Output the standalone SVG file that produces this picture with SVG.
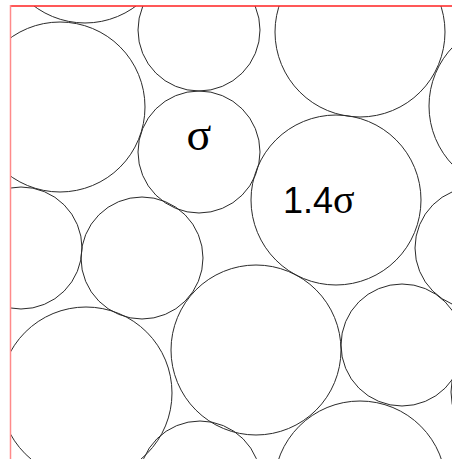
<svg xmlns="http://www.w3.org/2000/svg" width="452" height="459" viewBox="0 0 452 459">
<defs>
<style>
.c{fill:none;stroke:#2a2a2a;stroke-width:1}
.t{font-family:"Liberation Serif","DejaVu Serif",serif;fill:#000}
.s{font-family:"Liberation Sans",Arial,sans-serif;fill:#000}
</style>
<clipPath id="box"><rect x="10" y="6" width="442" height="453"/></clipPath>
</defs>
<rect width="452" height="459" fill="#fff"/>
<g clip-path="url(#box)">
<g id="cA"><circle class="c" cx="85" cy="-62" r="85"/></g>
<g id="cB"><circle class="c" cx="199" cy="30" r="61"/></g>
<g id="cC"><circle class="c" cx="360" cy="32" r="85"/></g>
<g id="cD"><circle class="c" cx="514" cy="106" r="85"/></g>
<g id="cE"><circle class="c" cx="60" cy="107" r="85"/></g>
<g id="cF"><circle class="c" cx="199" cy="152" r="61"/><text class="t" x="199" y="150" font-size="46" text-anchor="middle">σ</text></g>
<g id="cG"><circle class="c" cx="336" cy="200" r="85"/><text x="283" y="213"><tspan class="s" font-size="36">1.4</tspan><tspan class="t" font-size="40">σ</tspan></text></g>
<g id="cH"><circle class="c" cx="21" cy="248" r="61"/></g>
<g id="cI"><circle class="c" cx="142" cy="258" r="61"/></g>
<g id="cM"><circle class="c" cx="476" cy="248" r="61"/></g>
<g id="cJ"><circle class="c" cx="86" cy="393" r="86"/></g>
<g id="cK"><circle class="c" cx="256" cy="350" r="85"/></g>
<g id="cL"><circle class="c" cx="402" cy="345" r="61"/></g>
<g id="cN"><circle class="c" cx="360" cy="487" r="86"/></g>
<g id="cO"><circle class="c" cx="200" cy="482" r="61"/></g>
<g id="cP"><circle class="c" cx="512" cy="392" r="61"/></g>
</g>
<g id="border">
<line x1="10" y1="6" x2="452" y2="6" stroke="#ff2020" stroke-width="1.6"/>
<line x1="10.5" y1="5" x2="10.5" y2="459" stroke="#ff8a8a" stroke-width="1.5"/>
</g>
</svg>
